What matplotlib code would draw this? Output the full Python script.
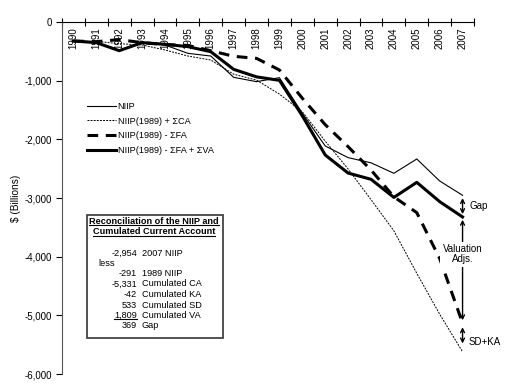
import matplotlib
matplotlib.use("Agg")
import matplotlib.pyplot as plt
from matplotlib.patches import Rectangle
from matplotlib.lines import Line2D

plt.rcParams['font.family'] = ['Liberation Sans', 'DejaVu Sans']
plt.rcParams['font.size'] = 7

# values ($ billions)
years = ['1990', '1991', '1992', '1993', '1994', '1995', '1996', '1997', '1998',
         '1999', '2000', '2001', '2002', '2003', '2004', '2005', '2006', '2007']
niip = [-324, -345, -480, -360, -392, -534, -580, -943, -1017,
        -949, -1556, -2113, -2312, -2400, -2579, -2335, -2710, -2954]
niip_ca = [-324, -330, -370, -392, -477, -580, -648, -890, -990,
           -1230, -1530, -2030, -2506, -3028, -3560, -4284, -4980, -5622]
niip_fa = [-324, -335, -300, -352, -385, -400, -489, -585, -620,
           -818, -1300, -1750, -2125, -2523, -2980, -3250, -4030, -5132]
niip_fa_va = [-324, -352, -489, -352, -380, -420, -506, -807, -935,
              -995, -1600, -2267, -2575, -2681, -2990, -2733, -3062, -3323]

# reconciliation box
recon_nums = ['-2,954', '', '-291', '-5,331', '-42', '533', '1,809', '369']
recon_labels = ['2007 NIIP', 'less', '1989 NIIP', 'Cumulated CA', 'Cumulated KA',
                'Cumulated SD', 'Cumulated VA', 'Gap']

W, H = 508, 385
fs = 6.6  # legend / box / annotation text
fig = plt.figure(figsize=(W / 100, H / 100), dpi=100)
ax = fig.add_axes([62 / W, 1 - 374 / H, 412 / W, 352 / H])

x = list(range(len(years)))
ax.plot(x, niip, color='black', lw=0.8, label='NIIP')
ax.plot(x, niip_ca, color='black', lw=0.7, dashes=(2, 1.2), label='NIIP(1989) + \u03a3CA')
ax.plot(x, niip_fa, color='black', lw=2.2, dashes=(3.5, 2.5), label='NIIP(1989) - \u03a3FA')
ax.plot(x, niip_fa_va, color='black', lw=2.2, label='NIIP(1989) - \u03a3FA + \u03a3VA')

ax.set_xlim(-0.5, len(years) - 0.5)
ax.set_ylim(-6000, 0)
ax.set_yticks(range(-6000, 1, 1000))
ax.set_yticklabels([f'{v:,}' for v in range(-6000, 1, 1000)])
ax.set_xticks([i - 0.5 for i in range(len(years) + 1)])
ax.set_xticklabels([])
ax.tick_params(axis='x', direction='inout', length=6, width=0.8, top=True, bottom=False)
ax.tick_params(axis='y', direction='out', length=4, width=0.8, pad=3)
for s in ['bottom', 'right']:
    ax.spines[s].set_visible(False)
ax.spines['left'].set_color('#555555')
ax.spines['top'].set_linewidth(0.8)
ax.set_ylabel('$ (Billions)', labelpad=3, fontsize=7.3)

for i, yr in enumerate(years):
    ax.text(i, -95, yr, rotation=90, ha='center', va='top', fontsize=7)

leg = ax.legend(loc='upper left', bbox_to_anchor=(87 / W, 1 - 102 / H),
                bbox_transform=fig.transFigure, frameon=False, borderpad=0,
                borderaxespad=0, handlelength=3.2, handletextpad=0.15,
                labelspacing=0.62, fontsize=fs)

# annotations at 2007
xe = len(years) - 1
arr = dict(arrowstyle='<->', color='black', lw=1.0, mutation_scale=7, shrinkA=2, shrinkB=2)
ax.annotate('', xy=(xe, niip_fa_va[-1]), xytext=(xe, niip[-1]), arrowprops=arr)
ax.annotate('', xy=(xe, niip_fa[-1]), xytext=(xe, niip_fa_va[-1]), arrowprops=arr)
ax.annotate('', xy=(xe, niip_ca[-1]), xytext=(xe, niip_fa[-1]),
            arrowprops=dict(arr, shrinkA=3, shrinkB=6))
ax.annotate('Gap', xy=(xe, (niip[-1] + niip_fa_va[-1]) / 2), xytext=(5, 0),
            textcoords='offset points', ha='left', va='center', fontsize=fs + 0.4)
ax.text(xe, -3960, 'Valuation\nAdjs.', ha='center', va='center', fontsize=fs + 0.4,
        linespacing=1.0, zorder=5,
        bbox=dict(boxstyle='square,pad=0.25', fc='white', ec='none'))
ax.annotate('SD+KA', xy=(xe, -5450), xytext=(4, 0), textcoords='offset points',
            ha='left', va='center', fontsize=fs + 0.4)

# reconciliation box (figure pixels)
def fp(px, py):
    return px / W, 1 - py / H

bx0, by0, bx1, by1 = 87, 215, 223, 338
fig.patches.append(Rectangle(fp(bx0, by1), (bx1 - bx0) / W, (by1 - by0) / H,
                             transform=fig.transFigure, fill=True, fc='white',
                             ec='#444444', lw=1.3, zorder=3))
t1 = fig.text(*fp(154, 221), 'Reconciliation of the NIIP and', ha='center', va='center',
              fontweight='bold', fontsize=fs, zorder=4)
t2 = fig.text(*fp(154, 232), 'Cumulated Current Account', ha='center', va='center',
              fontweight='bold', fontsize=fs, zorder=4)
row_y = [253, 263.5, 273.5, 284, 294.5, 305, 315.5, 326]
num_texts = []
for yy, num, lab in zip(row_y, recon_nums, recon_labels):
    if lab == 'less':
        fig.text(*fp(98, yy), lab, ha='left', va='center', fontsize=fs, zorder=4)
        continue
    num_texts.append(fig.text(*fp(137, yy), num, ha='right', va='center', fontsize=fs, zorder=4))
    fig.text(*fp(142, yy), lab, ha='left', va='center', fontsize=fs, zorder=4)

fig.canvas.draw()
rend = fig.canvas.get_renderer()
for t in [t1, t2, num_texts[5]]:
    bb = t.get_window_extent(rend)
    yline = bb.y0 + 0.8
    fig.add_artist(Line2D([bb.x0 / W, bb.x1 / W], [yline / H, yline / H],
                          transform=fig.transFigure, color='black', lw=0.8, zorder=4))

fig.savefig('out.png', dpi=100)
